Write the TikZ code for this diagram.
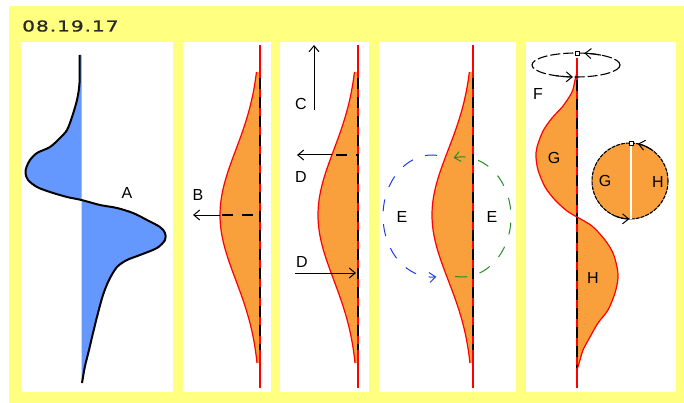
\documentclass[tikz,border=0pt]{standalone}
\usepackage{fontspec}
\setmainfont{Liberation Sans}
\newfontfamily\titlefont[FakeStretch=1.35, LetterSpace=6, FakeBold=1]{DejaVu Sans}
\usetikzlibrary{arrows.meta}
\definecolor{bgyellow}{RGB}{255,255,128}
\definecolor{bluefill}{RGB}{100,152,255}
\definecolor{orangefill}{RGB}{249,160,60}
\definecolor{arcblue}{RGB}{30,60,230}
\definecolor{arcgreen}{RGB}{40,140,40}
\definecolor{titlegray}{RGB}{40,40,40}
\begin{document}
\begin{tikzpicture}[x=1pt,y=-1pt,
  lbl/.style={font=\fontsize{16}{16}\selectfont, inner sep=0pt},
  arr/.style={-{Straight Barb[length=6pt,width=10pt]}, line width=1pt},
  panelbox/.style={fill=white},
  axisred/.style={red, line width=1.2pt},
  axisdash/.style={black, line width=1.8pt, dash pattern=on 11pt off 8pt},
  hdash/.style={black, line width=1.6pt, dash pattern=on 11pt off 9pt},
  bellfill/.style={fill=orangefill},
  bellline/.style={red, line width=1.2pt},
  arcdash/.style={line width=1.1pt, dash pattern=on 12pt off 13pt},
  marker/.style={draw=black, fill=white, line width=0.8pt, minimum size=4pt, inner sep=0pt, rectangle}
]
\useasboundingbox (0,0) rectangle (684,403);
\fill[white] (0,0) rectangle (684,403);
\fill[bgyellow] (9,6) rectangle (684,403);
\node[anchor=west, inner sep=0pt, text=titlegray] (title) at (22,26)
  {\titlefont\fontsize{15}{15}\selectfont 08.19.17};

% panels
\fill[panelbox] (21,42) rectangle (173,392);
\fill[panelbox] (183,42) rectangle (271,392);
\fill[panelbox] (280,42) rectangle (369,392);
\fill[panelbox] (379,42) rectangle (516,392);
\fill[panelbox] (526,42) rectangle (676,392);

% ---------- panel 1 ----------
\fill[bluefill] (81.5,55) -- plot[smooth] coordinates {(79.5,55) (79.5,83) (77,100) (72,117) (67,130) (60,138) (50,147) (37,153) (30,160) (26.5,167) (25.5,173) (28,180) (37,187) (50,192) (67,197) (81.5,200) (100,205) (117,208) (133,213) (147,220) (160,227) (165,233) (165,240) (157,248) (140,255) (127,260) (117,267) (109,280) (103,295) (98,313) (93,333) (89,350) (85,366) (83,377) (82,383)} -- (81.5,383) -- cycle;
\draw[line width=2pt, line join=round] plot[smooth] coordinates {(79.5,55) (79.5,83) (77,100) (72,117) (67,130) (60,138) (50,147) (37,153) (30,160) (26.5,167) (25.5,173) (28,180) (37,187) (50,192) (67,197) (81.5,200) (100,205) (117,208) (133,213) (147,220) (160,227) (165,233) (165,240) (157,248) (140,255) (127,260) (117,267) (109,280) (103,295) (98,313) (93,333) (89,350) (85,366) (83,377) (82,383)};
\node[lbl] (lA) at (127,193) {A};

% ---------- panel 2 ----------
\fill[bellfill] (260,72) -- plot[domain=72:363, samples=90, variable=\t] ({260-40*exp(-((\t-215)/91.92)*((\t-215)/91.92))},\t) -- (260,363) -- cycle;
\draw[axisred] (260,45) -- (260,388);
\draw[axisdash] (260,78) -- (260,350);
\draw[bellline] plot[domain=72:363, samples=90, variable=\t] ({260-40*exp(-((\t-215)/91.92)*((\t-215)/91.92))},\t);
\coordinate (bpeak) at (220,215);
\coordinate (baxis) at (260,215);
\coordinate (btip) at (193,215);
\draw[hdash] (222,215) -- (baxis);
\draw[arr] (bpeak) -- (btip);
\node[lbl] (lB) at (198,195) {B};

% ---------- panel 3 ----------
\fill[bellfill] (358,72) -- plot[domain=72:363, samples=90, variable=\t] ({358-40*exp(-((\t-215)/91.92)*((\t-215)/91.92))},\t) -- (358,363) -- cycle;
\draw[axisred] (358,45) -- (358,388);
\draw[axisdash] (358,78) -- (358,350);
\draw[bellline] plot[domain=72:363, samples=90, variable=\t] ({358-40*exp(-((\t-215)/91.92)*((\t-215)/91.92))},\t);
\coordinate (cbot) at (314,110);
\coordinate (ctop) at (314,45);
\draw[arr] (cbot) -- (ctop);
\node[lbl] (lC) at (301,104) {C};
\coordinate (d1curve) at (332,155);
\coordinate (d1axis) at (358,155);
\coordinate (d1tip) at (297,155);
\draw[hdash] (336,155) -- (d1axis);
\draw[arr] (d1curve) -- (d1tip);
\node[lbl] (lD1) at (301,177) {D};
\coordinate (d2start) at (295,273);
\coordinate (d2tip) at (356,273);
\draw[arr] (d2start) -- (d2tip);
\node[lbl] (lD2) at (302,262) {D};

% ---------- panel 4 ----------
\fill[bellfill] (473,72) -- plot[domain=72:363, samples=90, variable=\t] ({473-41*exp(-((\t-215)/91.92)*((\t-215)/91.92))},\t) -- (473,363) -- cycle;
\draw[axisred] (473,45) -- (473,388);
\draw[axisdash] (473,78) -- (473,350);
\draw[bellline] plot[domain=72:363, samples=90, variable=\t] ({473-41*exp(-((\t-215)/91.92)*((\t-215)/91.92))},\t);
\coordinate (ecl) at (432,216);
\coordinate (ecr) at (462,217);
\draw[arcdash, arcblue, arr] ([shift={(276:49 and 61)}]ecl) arc[start angle=276, end angle=85, x radius=49, y radius=61];
\draw[arcdash, arcgreen, arr] ([shift={(98:49 and 60)}]ecr) arc[start angle=98, end angle=-100, x radius=49, y radius=60];
\node[lbl] (lE1) at (402,217) {E};
\node[lbl] (lE2) at (492,217) {E};

% ---------- panel 5 ----------
\fill[bellfill] (577,72) -- plot[smooth] coordinates {(577,72) (575,80) (572,92) (563,106) (552,118) (543,131) (537,147) (536,157) (538,170) (545,187) (555,200) (567,211) (577,217) (592,226) (605,240) (613,253) (617,267) (618,278) (615,293) (608,310) (598,323) (590,337) (583,350) (580,360) (577,370)} -- (577,370) -- cycle;
\draw[axisred] (577,58) -- (577,388);
\draw[axisdash] (577,80) -- (577,368);
\draw[bellline] plot[smooth] coordinates {(577,72) (575,80) (572,92) (563,106) (552,118) (543,131) (537,147) (536,157) (538,170) (545,187) (555,200) (567,211) (577,217) (592,226) (605,240) (613,253) (617,267) (618,278) (615,293) (608,310) (598,323) (590,337) (583,350) (580,360) (577,370)};
% ellipse at top
\coordinate (fc) at (576,65);
\draw[line width=1.1pt, dash pattern=on 10pt off 3pt] (fc) ellipse[x radius=44, y radius=12];
\draw[arr] ([shift={(-55:44 and 12)}]fc) arc[start angle=-55, end angle=-79, x radius=44, y radius=12];
\draw[arr] ([shift={(118:44 and 12)}]fc) arc[start angle=118, end angle=94, x radius=44, y radius=12];
\node[marker] (sq1) at (577,53) {};
\node[lbl] (lF) at (538,94) {F};
\node[lbl] (lG1) at (554,158) {G};
\node[lbl] (lH1) at (593,278) {H};
% circle
\coordinate (cc) at (630,181);
\fill[orangefill] (cc) circle (38);
\draw[line width=1.1pt, dash pattern=on 4pt off 1pt] (cc) circle (38);
\draw[white, line width=1.2pt] (631,144) -- (631,219);
\draw[arr] ([shift={(-55:38)}]cc) arc[start angle=-55, end angle=-78, radius=38];
\draw[arr] ([shift={(115:38)}]cc) arc[start angle=115, end angle=91, radius=38];
\node[marker] (sq2) at (631,143) {};
\node[lbl] (lG2) at (605,181) {G};
\node[lbl] (lH2) at (658,182) {H};
\end{tikzpicture}
\end{document}
